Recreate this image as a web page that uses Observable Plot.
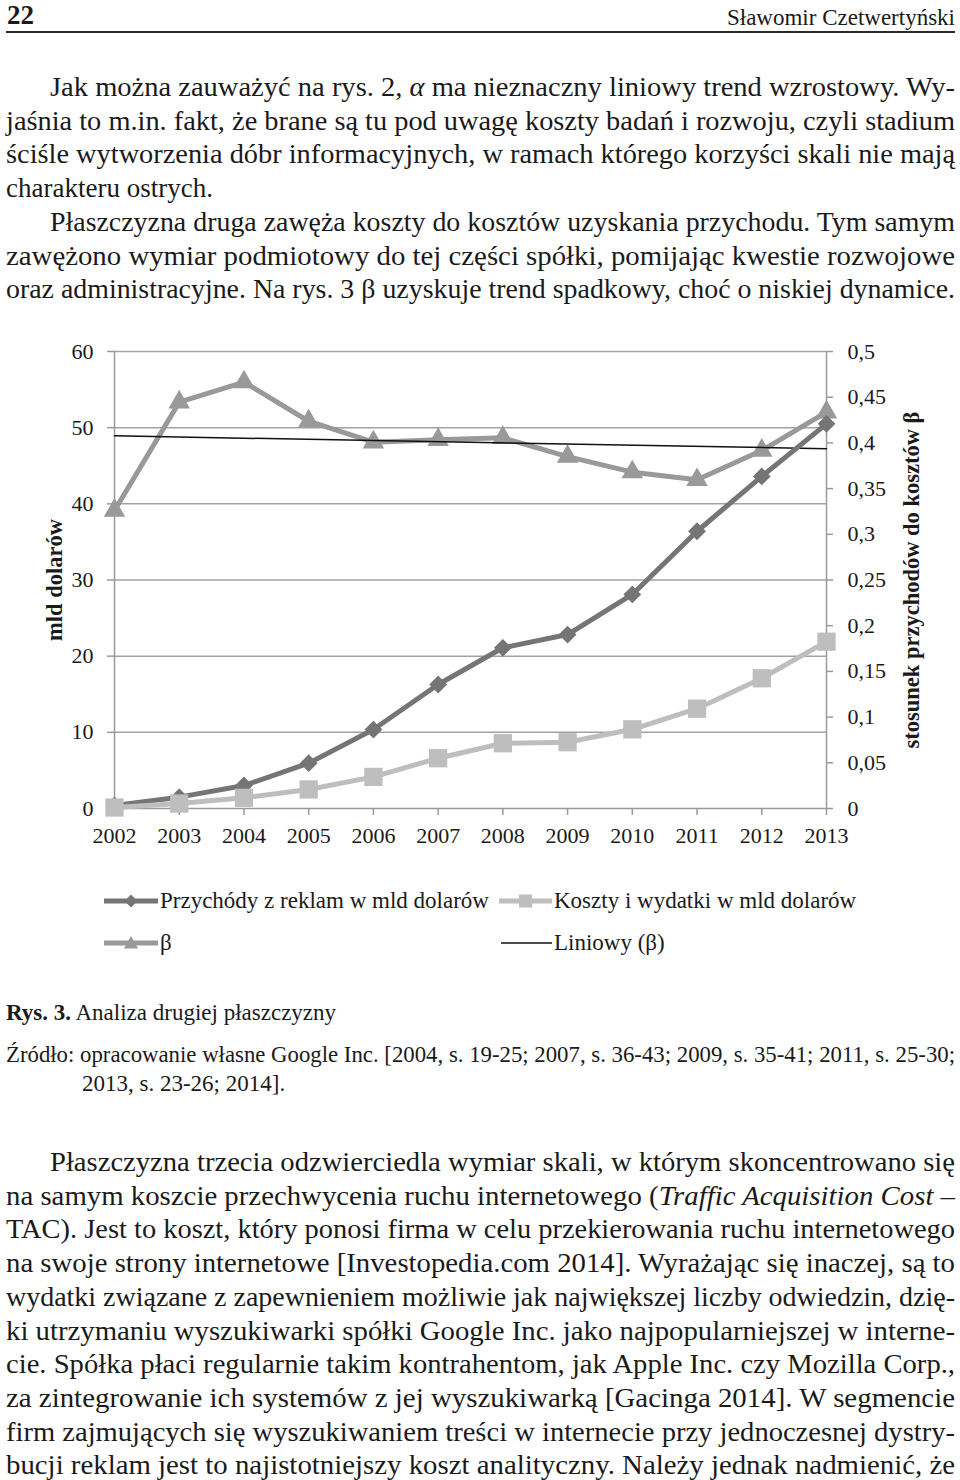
<!DOCTYPE html>
<html>
<head>
<meta charset="utf-8">
<script src="https://cdn.jsdelivr.net/npm/d3@7"></script>
<script src="https://cdn.jsdelivr.net/npm/@observablehq/plot@0.6"></script>
<style>
  html, body { margin: 0; padding: 0; background: #fff; }
  body { width: 960px; height: 1480px; position: relative; overflow: hidden;
         font-family: "Liberation Serif", "Times New Roman", serif; color: #1a1a1a; }
  .ln { position: absolute; white-space: nowrap; }
  #chart { position: absolute; left: 0; top: 320px; }
  .rule { position: absolute; left: 6px; width: 949px; top: 30.5px; height: 2px; background: #2a2a2a; }
  .sw { position: absolute; }
</style>
</head>
<body>
<div class="rule"></div>
<div id="chart"></div>
<script>
// ---------------- data ----------------
const years = [2002, 2003, 2004, 2005, 2006, 2007, 2008, 2009, 2010, 2011, 2012, 2013];
const revenue = [0.41, 1.49, 3.02, 5.95, 10.37, 16.28, 21.1, 22.84, 28.1, 36.4, 43.6, 50.5];
const costs = [0.13, 0.65, 1.4, 2.5, 4.15, 6.6, 8.57, 8.7, 10.4, 13.1, 17.1, 21.9];
const beta = [0.326, 0.4445, 0.4665, 0.4237, 0.4008, 0.4034, 0.4056, 0.385, 0.368, 0.3596, 0.3917, 0.4336];
const leftTicks = [0, 10, 20, 30, 40, 50, 60];
const rightTicks = [0, 0.05, 0.1, 0.15, 0.2, 0.25, 0.3, 0.35, 0.4, 0.45, 0.5];
const rightTickLabels = ["0", "0,05", "0,1", "0,15", "0,2", "0,25", "0,3", "0,35", "0,4", "0,45", "0,5"];
const seriesNames = ["Przychódy z reklam w mld dolarów", "Koszty i wydatki w mld dolarów", "β", "Liniowy (β)"];
const leftTitle = "mld dolarów";
const rightTitle = "stosunek przychodów do kosztów β";

// ---------------- styles ----------------
const revColor = "#757575", costColor = "#bebebe", betaColor = "#999999";
const gridColor = "#a2a2a2", axisColor = "#9a9a9a", textColor = "#1a1a1a";
const K = leftTicks[leftTicks.length - 1] / rightTicks[rightTicks.length - 1]; // right-axis to left-axis ratio

const rows = years.map((year, i) => ({year, revenue: revenue[i], costs: costs[i], beta: beta[i] * K}));

const chart = Plot.plot({
  width: 960, height: 560,
  marginLeft: 114, marginRight: 134, marginTop: 31, marginBottom: 72,
  x: {type: "linear", domain: [years[0], years[years.length - 1]]},
  y: {domain: [leftTicks[0], leftTicks[leftTicks.length - 1]]},
  style: {fontFamily: '"Liberation Serif", "Times New Roman", serif', fontSize: "22px", color: textColor, background: "white", overflow: "visible"},
  marks: [
    Plot.ruleY(leftTicks.slice(1), {stroke: gridColor, strokeWidth: 1.5}),
    Plot.axisY(leftTicks, {anchor: "left", tickSize: 7, tickPadding: 14, stroke: axisColor, strokeWidth: 1.5, fill: textColor, label: null, tickFormat: d => String(d)}),
    Plot.axisY(rightTicks.map(t => t * K), {anchor: "right", tickSize: 6, tickPadding: 15, stroke: axisColor, strokeWidth: 1.5, fill: textColor, label: null,
      tickFormat: d => rightTickLabels[rightTicks.findIndex(t => Math.abs(t * K - d) < 1e-6)]}),
    Plot.axisX(years, {anchor: "bottom", tickSize: 7, tickPadding: 12, stroke: axisColor, strokeWidth: 1.5, fill: textColor, label: null, tickFormat: d => String(d)}),
    Plot.ruleX([years[0], years[years.length - 1]], {stroke: axisColor, strokeWidth: 1.5}),
    Plot.ruleY([0], {stroke: axisColor, strokeWidth: 1.5}),
    Plot.line(rows, {x: "year", y: "beta", stroke: betaColor, strokeWidth: 5}),
    Plot.dot(rows, {x: "year", y: "beta", symbol: "triangle", r: 8, fill: betaColor}),
    Plot.linearRegressionY(rows, {x: "year", y: "beta", stroke: "#111", strokeWidth: 1.5, ci: 0}),
    Plot.line(rows, {x: "year", y: "revenue", stroke: revColor, strokeWidth: 5}),
    Plot.dot(rows, {x: "year", y: "revenue", symbol: "diamond2", r: 8, fill: revColor}),
    Plot.line(rows, {x: "year", y: "costs", stroke: costColor, strokeWidth: 5}),
    Plot.dot(rows, {x: "year", y: "costs", symbol: "square", r: 10.3, fill: costColor}),
    Plot.text([leftTitle], {text: d => d, frameAnchor: "left", textAnchor: "middle", dx: -60, rotate: -90, fontWeight: "bold", fontSize: 22.5, fill: textColor}),
    Plot.text([rightTitle], {text: d => d, frameAnchor: "right", textAnchor: "middle", dx: 85, rotate: -90, fontWeight: "bold", fontSize: 22.5, fill: textColor})
  ]
});
document.getElementById("chart").appendChild(chart);

// ---------------- page text ----------------
const RIGHT = 955;
const justified = [];
function line(html, {left = 6, base, fs, justify = false, bold = false, right = null}) {
  const d = document.createElement("div");
  d.className = "ln";
  let css = `top:${base - 0.8375 * fs}px;font-size:${fs}px;line-height:${fs}px;`;
  css += right !== null ? `right:${960 - right}px;` : `left:${left}px;`;
  if (bold) css += "font-weight:bold;";
  d.style.cssText = css;
  d.innerHTML = `<span>${html}</span>`;
  document.body.appendChild(d);
  if (justify) justified.push({span: d.firstChild, target: RIGHT - left});
  return d;
}

line("22", {left: 7, base: 25, fs: 27, bold: true});
line("Sławomir Czetwertyński", {right: RIGHT, base: 25, fs: 23});

const topLines = [
  ["Jak można zauważyć na rys. 2, <i>α</i> ma nieznaczny liniowy trend wzrostowy. Wy-", 50, true],
  ["jaśnia to m.in. fakt, że brane są tu pod uwagę koszty badań i rozwoju, czyli stadium", 6, true],
  ["ściśle wytworzenia dóbr informacyjnych, w ramach którego korzyści skali nie mają", 6, true],
  ["charakteru ostrych.", 6, false],
  ["Płaszczyzna druga zawęża koszty do kosztów uzyskania przychodu. Tym samym", 50, true],
  ["zawężono wymiar podmiotowy do tej części spółki, pomijając kwestie rozwojowe", 6, true],
  ["oraz administracyjne. Na rys. 3 β uzyskuje trend spadkowy, choć o niskiej dynamice.", 6, true]
];
topLines.forEach(([t, l, j], k) => line(t, {left: l, base: 96.7 + 33.7 * k, fs: 27, justify: j}));

// legend
function swatch(left, cy, w, kind) {
  const s = document.createElementNS("http://www.w3.org/2000/svg", "svg");
  s.setAttribute("class", "sw");
  s.setAttribute("width", w); s.setAttribute("height", 20);
  s.style.left = left + "px"; s.style.top = (cy - 10) + "px";
  let inner = "";
  const m = w / 2;
  if (kind === "rev") inner = `<line x1="0" x2="${w}" y1="10" y2="10" stroke="${revColor}" stroke-width="5"/><path d="M${m},3.5L${m + 6.5},10L${m},16.5L${m - 6.5},10Z" fill="${revColor}"/>`;
  if (kind === "cost") inner = `<line x1="0" x2="${w}" y1="10" y2="10" stroke="${costColor}" stroke-width="5"/><rect x="${m - 6.5}" y="3.5" width="13" height="13" fill="${costColor}"/>`;
  if (kind === "beta") inner = `<line x1="0" x2="${w}" y1="10" y2="10" stroke="${betaColor}" stroke-width="5"/><path d="M${m},3L${m + 7},15.5L${m - 7},15.5Z" fill="${betaColor}"/>`;
  if (kind === "trend") inner = `<line x1="0" x2="${w}" y1="10" y2="10" stroke="#111" stroke-width="1.6"/>`;
  s.innerHTML = inner;
  document.body.appendChild(s);
}
swatch(104, 901, 54, "rev");  line(seriesNames[0], {left: 160, base: 908.5, fs: 23});
swatch(499, 901, 53, "cost"); line(seriesNames[1], {left: 554, base: 908.5, fs: 23});
swatch(104, 943, 54, "beta"); line(seriesNames[2], {left: 160, base: 950.5, fs: 23});
swatch(501, 943, 51, "trend"); line(seriesNames[3], {left: 554, base: 950.5, fs: 23});

// caption & source
line("<b>Rys. 3.</b> Analiza drugiej płaszczyzny", {left: 6, base: 1020, fs: 23});
line("Źródło: opracowanie własne Google Inc. [2004, s. 19-25; 2007, s. 36-43; 2009, s. 35-41; 2011, s. 25-30;", {left: 6, base: 1062, fs: 23, justify: true});
line("2013, s. 23-26; 2014].", {left: 82, base: 1091, fs: 23});

const bottomLines = [
  ["Płaszczyzna trzecia odzwierciedla wymiar skali, w którym skoncentrowano się", 50],
  ["na samym koszcie przechwycenia ruchu internetowego (<i>Traffic Acquisition Cost</i> –", 6],
  ["TAC). Jest to koszt, który ponosi firma w celu przekierowania ruchu internetowego", 6],
  ["na swoje strony internetowe [Investopedia.com 2014]. Wyrażając się inaczej, są to", 6],
  ["wydatki związane z zapewnieniem możliwie jak największej liczby odwiedzin, dzię-", 6],
  ["ki utrzymaniu wyszukiwarki spółki Google Inc. jako najpopularniejszej w interne-", 6],
  ["cie. Spółka płaci regularnie takim kontrahentom, jak Apple Inc. czy Mozilla Corp.,", 6],
  ["za zintegrowanie ich systemów z jej wyszukiwarką [Gacinga 2014]. W segmencie", 6],
  ["firm zajmujących się wyszukiwaniem treści w internecie przy jednoczesnej dystry-", 6],
  ["bucji reklam jest to najistotniejszy koszt analityczny. Należy jednak nadmienić, że", 6]
];
bottomLines.forEach(([t, l], k) => line(t, {left: l, base: 1171.7 + 33.7 * k, fs: 27, justify: true}));

// justify: widen glyphs (as in the scanned page) to fill the measure
function doJustify() {
  for (const {span, target} of justified) {
    span.style.wordSpacing = "0px";
    span.style.display = "inline-block";
    span.style.transform = "";
    span.style.transformOrigin = "0 0";
    const w = span.getBoundingClientRect().width;
    const n = (span.textContent.match(/ /g) || []).length;
    let s = target / w;
    const maxS = 1.09;
    if (s > maxS) {
      // remainder goes to word spacing
      const ws = n ? (target / maxS - w) / n : 0;
      span.style.wordSpacing = ws + "px";
      s = maxS;
    }
    span.style.transform = `scaleX(${s})`;
  }
}
doJustify();
if (document.fonts && document.fonts.ready) document.fonts.ready.then(doJustify);
</script>
</body>
</html>
